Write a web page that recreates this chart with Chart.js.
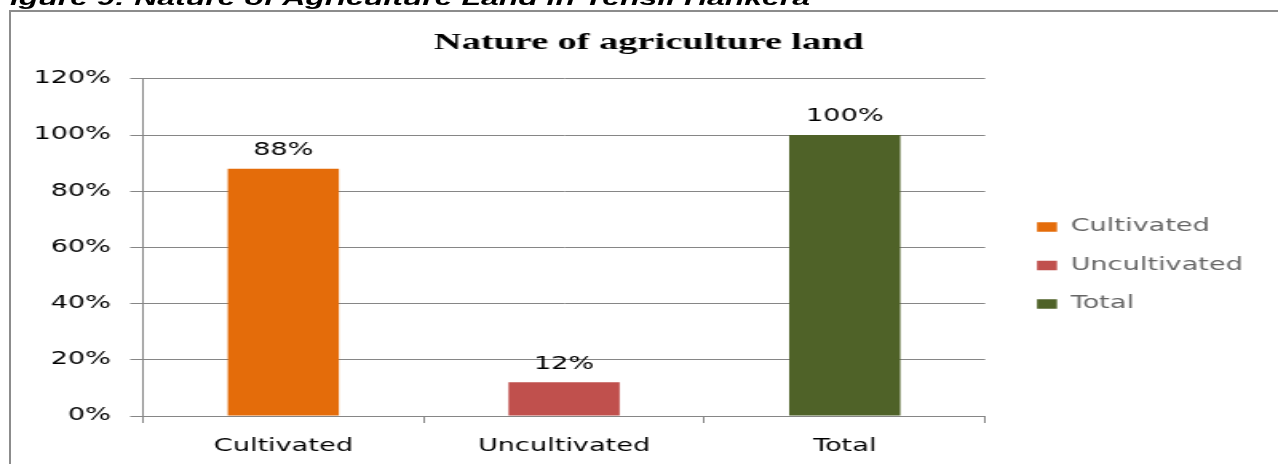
<!DOCTYPE html>
<html><head><meta charset="utf-8">
<script src="https://cdn.jsdelivr.net/npm/chart.js@4.4.0/dist/chart.umd.min.js"></script>
<style>
html,body{margin:0;padding:0;background:#fff;width:1278px;height:464px;overflow:hidden;}
#frame{position:absolute;left:9px;top:10px;width:1400px;height:600px;border:2px solid #8c8c8c;box-sizing:border-box;}
#wrap{position:absolute;left:0;top:0;width:810px;height:464px;transform:scaleX(1.5975);transform-origin:0 0;}
#cap{position:absolute;left:-6px;top:-12px;font:bold italic 20px "Liberation Sans",Arial,sans-serif;line-height:20px;white-space:nowrap;color:#000;}
canvas{position:absolute;left:0;top:0;}
</style></head><body>
<div id="frame"></div>
<div id="wrap"><div id="cap">Figure 9: Nature of Agriculture Land in Tehsil Hankera</div><canvas id="c" width="810" height="464"></canvas></div>
<script>
const categories = ['Cultivated', 'Uncultivated', 'Total'];
const values = [88, 12, 100];
const colors = ['#E46C0A', '#C0504D', '#4F6228'];
const yTicks = [0, 20, 40, 60, 80, 100, 120];
const titleText = 'Nature of agriculture land';

const textColor = '#000000';
const gridColor = '#868686';
const labelFont = { family: '"DejaVu Sans", Verdana, sans-serif', size: 17 };

const dataLabels = {
  id: 'dataLabels',
  afterDatasetsDraw(chart) {
    const ctx = chart.ctx;
    const meta = chart.getDatasetMeta(0);
    const ds = chart.data.datasets[0];
    ctx.save();
    ctx.font = '17px "DejaVu Sans", Verdana, sans-serif';
    ctx.fillStyle = textColor;
    ctx.textAlign = 'center';
    ctx.textBaseline = 'middle';
    meta.data.forEach((bar, i) => {
      ctx.fillText(ds.data[i] + '%', bar.x, bar.y - 18);
    });
    ctx.restore();
  }
};

// gap between plot area and legend, and title centring, as in the reference
const boxTweaks = {
  id: 'boxTweaks',
  afterLayout(chart) {
    const lg = chart.legend;
    if (lg) { lg.left += 11; lg.right += 11; }
    const tb = chart.titleBlock;
    if (tb) { tb.left += 9.6; tb.right += 9.6; }
  }
};

new Chart(document.getElementById('c'), {
  type: 'bar',
  data: {
    labels: categories,
    datasets: [{
      label: 'Nature of agriculture land',
      data: values,
      backgroundColor: colors,
      borderWidth: 0,
      barPercentage: 0.396,
      categoryPercentage: 1
    }]
  },
  options: {
    responsive: false,
    animation: false,
    devicePixelRatio: 1,
    layout: { padding: { left: 16, right: 33, top: 0, bottom: 0 } },
    plugins: {
      title: {
        display: true,
        text: titleText,
        color: '#000',
        font: { family: '"Liberation Serif", "Times New Roman", serif', size: 24, weight: 'bold' },
        padding: { top: 28, bottom: 22 }
      },
      legend: {
        position: 'right',
        align: 'center',
        fullSize: false,
        title: { display: true, text: '', font: { size: 12.5 }, padding: { top: 21, bottom: 0 } },
        labels: {
          boxWidth: 12.5,
          boxHeight: 9.5,
          padding: 21.5,
          color: textColor,
          font: labelFont,
          generateLabels: () => categories.map((c, i) => ({
            text: c, fillStyle: colors[i], strokeStyle: colors[i], lineWidth: 0, hidden: false, index: i
          }))
        }
      },
      tooltip: { enabled: false }
    },
    scales: {
      x: {
        grid: { display: true, drawOnChartArea: false, drawTicks: true, tickLength: 7, color: gridColor, offset: true },
        border: { display: true, color: gridColor, width: 1 },
        ticks: { font: labelFont, color: textColor, padding: 13 },
        afterFit: s => { s.height = 48; }
      },
      y: {
        min: 0, max: 120,
        afterBuildTicks: s => { s.ticks = yTicks.map(v => ({ value: v })); },
        ticks: { font: labelFont, color: textColor, padding: 12, callback: v => v + '%' },
        grid: { color: gridColor, tickLength: 8, drawTicks: true },
        border: { display: true, color: gridColor, width: 1 },
        afterFit: s => { s.width = 73.5; }
      }
    }
  },
  plugins: [dataLabels, boxTweaks]
});
</script>
</body></html>
